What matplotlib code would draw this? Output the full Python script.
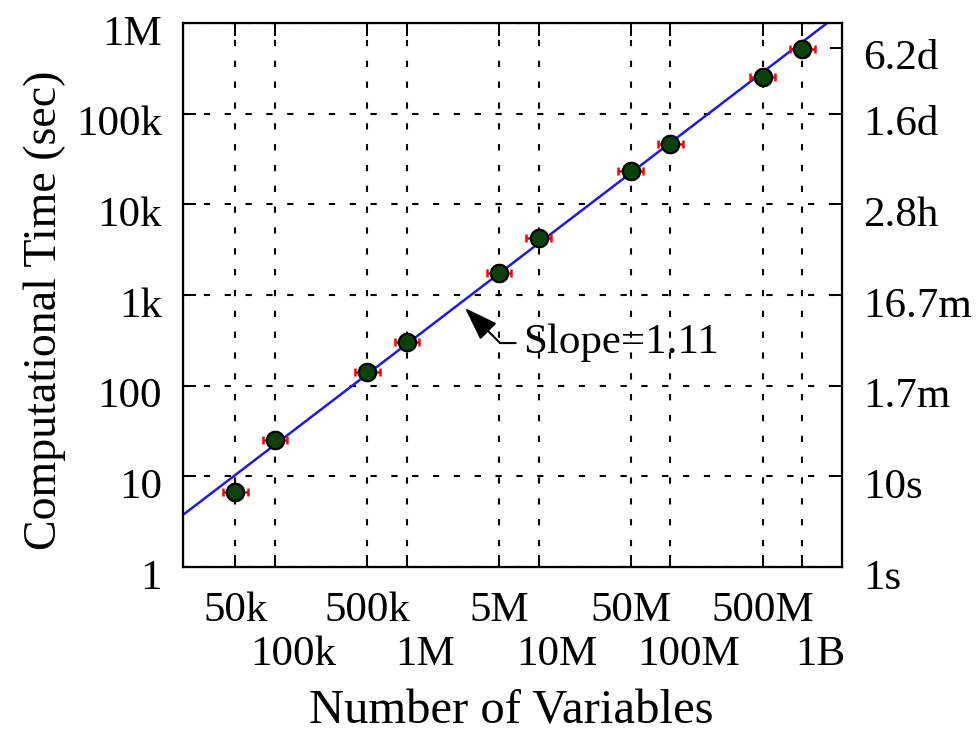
import numpy as np
import matplotlib
matplotlib.use("Agg")
import matplotlib.pyplot as plt
from matplotlib.transforms import ScaledTranslation

# measured runtimes
num_vars = [5e4, 1e5, 5e5, 1e6, 5e6, 1e7, 5e7, 1e8, 5e8, 1e9]
comp_time = [6.7, 25, 141, 302, 1740, 4240, 23200, 46000, 252000, 515000]
xerr_frac = 0.24  # error bar half-widths, relative
yerr_frac = 0.22

# fitted power law: log10(T) = slope*log10(N) + intercept
fit_slope = 1.11
fit_intercept = -4.20

x_ticks = [5e4, 1e5, 5e5, 1e6, 5e6, 1e7, 5e7, 1e8, 5e8, 1e9]
x_labels = ["50k", "100k", "500k", "1M", "5M", "10M", "50M", "100M", "500M", "1B"]
y_ticks = [1, 10, 100, 1e3, 1e4, 1e5, 1e6]
y_labels = ["1", "10", "100", "1k", "10k", "100k", "1M"]
y2_ticks = [1, 10, 100, 1e3, 1e4, 1e5, 535680]
y2_labels = ["1s", "10s", "1.7m", "16.7m", "2.8h", "1.6d", "6.2d"]

# annotation anchor points (data coords)
arrow_tip = (2.76e6, 718)
arrow_knee = (5.1e6, 295)
label_pos = (7.6e6, 295)

plt.rcParams['font.family'] = ['Liberation Serif', 'DejaVu Serif']

fig = plt.figure(figsize=(9.8, 7.35), dpi=100)
ax = fig.add_axes([0.1867, 0.2286, 0.6724, 0.7401])

ax.set_xscale('log')
ax.set_yscale('log')
ax.set_xlim(2e4, 2e9)
ax.set_ylim(1, 1e6)

fit_x = np.array([2e4, 2e9])
fit_y = 10 ** (fit_slope * np.log10(fit_x) + fit_intercept)
ax.plot(fit_x, fit_y, color='#1a1aee', lw=1.8, zorder=3)

t = np.array(comp_time)
n = np.array(num_vars)
ax.errorbar(n, t,
            xerr=[n - n / (1 + xerr_frac), n * xerr_frac],
            yerr=[t - t / (1 + yerr_frac), t * yerr_frac],
            fmt='none', ecolor='red', elinewidth=1.8, capsize=3, capthick=1.8,
            zorder=4)
ax.plot(n, t, 'o', ms=12.5, mfc='#0a420a', mec='black', mew=1.6, zorder=5)

# "Slope" callout: text, short horizontal leader, then 45 degree arrow
ax.text(label_pos[0], label_pos[1], "Slope=1.11", fontsize=31,
        ha='left', va='center')
ax.annotate("", xy=arrow_knee, xytext=(label_pos[0] * 0.88, label_pos[1]),
            arrowprops=dict(arrowstyle='-', color='black', lw=1.5,
                            shrinkA=0, shrinkB=0))
ax.annotate("", xy=arrow_tip, xytext=arrow_knee,
            arrowprops=dict(arrowstyle='-|>,head_length=1.3,head_width=0.45',
                            mutation_scale=16, color='black', lw=1.5,
                            shrinkA=0, shrinkB=0))

ax.set_xticks(x_ticks)
ax.set_xticklabels(x_labels)
ax.set_yticks(y_ticks)
ax.set_yticklabels(y_labels)
ax.minorticks_off()

ax.grid(True, which='major', color='black', lw=1.5, linestyle=(0, (3, 7)))
ax.tick_params(axis='both', which='major', direction='in', length=9, width=1.4,
               labelsize=31, top=True, right=False)
ax.tick_params(axis='x', pad=18)
ax.tick_params(axis='y', pad=15)
for s in ax.spines.values():
    s.set_linewidth(1.6)

ax2 = ax.twinx()
ax2.set_yscale('log')
ax2.set_ylim(1, 1e6)
ax2.set_yticks(y2_ticks)
ax2.set_yticklabels(y2_labels)
ax2.minorticks_off()
ax2.tick_params(axis='y', direction='in', length=9, width=1.4, labelsize=31, pad=15)

# labels sit a little below their ticks
down = ScaledTranslation(0, -7 / 100, fig.dpi_scale_trans)
for lab in ax.get_yticklabels() + ax2.get_yticklabels():
    lab.set_transform(lab.get_transform() + down)

# alternate x labels on two rows
shift = ScaledTranslation(18 / 100, -44 / 100, fig.dpi_scale_trans)
for i, lab in enumerate(ax.get_xticklabels()):
    if i % 2 == 1:
        lab.set_transform(lab.get_transform() + shift)

fig.text(511 / 980, 1 - 712 / 735, "Number of Variables", fontsize=35,
         ha='center', va='center')
fig.text(45 / 980, 1 - 310 / 735, "Computational Time (sec)", fontsize=33,
         ha='center', va='center', rotation=90)

fig.savefig("out.png", dpi=100)
